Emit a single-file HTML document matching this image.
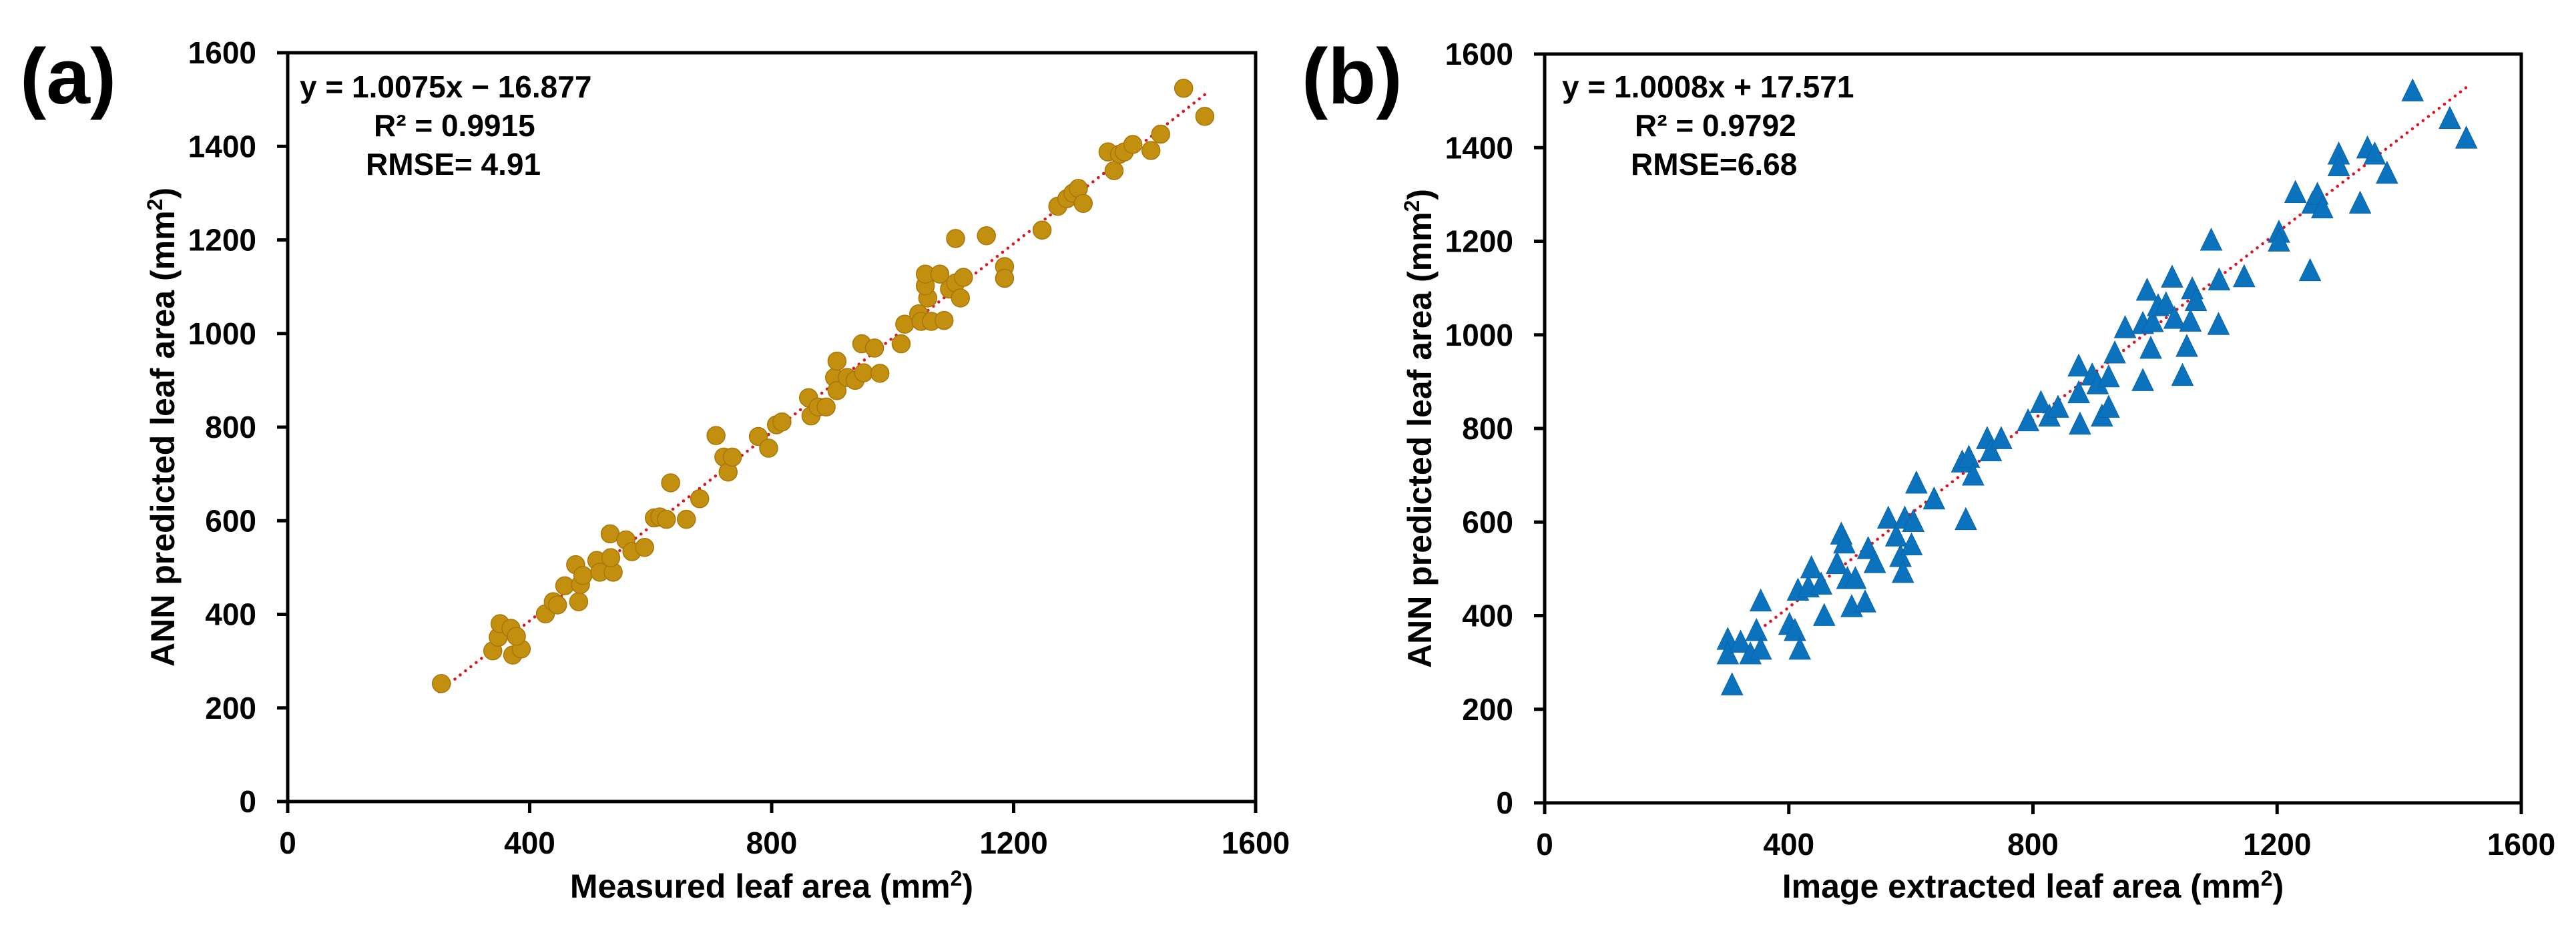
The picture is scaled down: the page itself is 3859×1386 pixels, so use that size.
<!DOCTYPE html>
<html><head><meta charset="utf-8"><style>
body{margin:0;background:#fff}
svg{display:block}
text{font-family:"Liberation Sans",Arial,sans-serif;font-weight:bold;fill:#000}
</style></head><body>
<svg id="fig" width="3859" height="1386" viewBox="0 0 3859 1386" xmlns="http://www.w3.org/2000/svg"></svg>
<script>
const xTicks=[0,400,800,1200,1600];
const yTicks=[0,200,400,600,800,1000,1200,1400,1600];
const aX=[254,339,348,351,369,372,386,378,426,439,446,458,476,481,484,488,511,516,533,538,534,559,569,590,606,615,626,633,659,681,708,721,728,735,778,795,808,817,861,865,877,890,904,908,908,925,938,952,949,970,979,1014,1020,1043,1047,1064,1085,1058,1054,1054,1078,1094,1104,1112,1117,1104,1155,1185,1185,1247,1273,1288,1298,1307,1315,1356,1366,1375,1383,1397,1427,1443,1481,1516];
const aY=[252,322,351,380,370,313,326,353,401,427,420,461,506,427,464,483,515,490,572,490,521,559,534,543,606,608,603,681,603,647,782,736,704,736,780,755,805,811,863,824,843,843,906,941,878,906,900,916,978,969,915,978,1020,1042,1026,1026,1028,1076,1102,1127,1127,1095,1108,1076,1120,1203,1209,1143,1118,1221,1272,1288,1300,1310,1278,1388,1348,1383,1388,1404,1391,1426,1524,1464];
const bX=[300,300,307,321,337,347,354,354,401,410,415,418,432,437,453,458,479,486,491,496,509,503,525,530,541,563,576,583,587,590,601,604,609,638,690,684,695,702,725,731,748,792,813,827,841,875,875,877,897,906,913,924,924,934,951,980,980,987,993,996,1005,1018,1028,1032,1045,1052,1058,1061,1067,1092,1104,1105,1146,1203,1203,1230,1254,1258,1266,1274,1301,1301,1336,1348,1360,1380,1422,1483,1510];
const bY=[346,315,249,340,315,365,325,428,378,365,451,325,458,499,464,397,508,571,552,476,476,416,426,540,510,605,567,523,489,605,548,598,680,646,602,725,735,697,775,749,775,813,852,823,842,930,873,806,911,892,823,842,907,958,1012,1021,899,1092,968,1025,1059,1063,1120,1032,910,972,1026,1095,1070,1199,1019,1114,1121,1216,1197,1301,1134,1278,1297,1268,1383,1358,1278,1396,1383,1342,1518,1459,1417];
const aFit=[1.0075,-16.877], aRange=[250,1520];
const bFit=[1.0008,17.571], bRange=[300,1510];

const NS='http://www.w3.org/2000/svg';
const svg=document.getElementById('fig');
function mk(tag,attrs,parent,txt){const e=document.createElementNS(NS,tag);for(const k in attrs)e.setAttribute(k,attrs[k]);if(txt!==undefined)e.textContent=txt;(parent||svg).appendChild(e);return e;}

function panel(p){
  const g=mk('g',{});
  
  
  const sx=v=>p.x0+(v-0)/1600*(p.x1-p.x0);
  const sy=v=>p.y1-(v-0)/1600*(p.y1-p.y0);
  const tl=mk('line',{x1:sx(p.range[0]),y1:sy(p.fit[0]*p.range[0]+p.fit[1]),x2:sx(p.range[1]),y2:sy(p.fit[0]*p.range[1]+p.fit[1]),stroke:'#e0141e','stroke-width':4.5,'stroke-dasharray':'0.1 10','stroke-linecap':'round'},g);
  
  
  const pg=mk('g',{},g);
  
  
  for(let i=0;i<p.xs.length;i++){
    const cx=sx(p.xs[i]),cy=sy(p.ys[i]);let m;
    if(p.marker==='circle'){m=mk('circle',{cx:cx,cy:cy,r:13.5,fill:'#c38f0f',stroke:'#a8770c','stroke-width':1.5},pg);}
    else{const s=16;m=mk('polygon',{points:`${cx},${cy-s*1.25} ${cx-s},${cy+s*0.8} ${cx+s},${cy+s*0.8}`,fill:'#0b72be',stroke:'#0a64a8','stroke-width':1},pg);}
    
    
  }
  const box=mk('rect',{x:p.x0,y:p.y0,width:p.x1-p.x0,height:p.y1-p.y0,fill:'none',stroke:'#000','stroke-width':5},g);
  
  
  xTicks.forEach(v=>{
    mk('line',{x1:sx(v),y1:p.y1,x2:sx(v),y2:p.y1+17,stroke:'#000','stroke-width':5},g);
    const t=mk('text',{x:sx(v),y:p.y1+78,'text-anchor':'middle','font-size':46},g,String(v));
    
    
  });
  yTicks.forEach(v=>{
    mk('line',{x1:p.x0-16,y1:sy(v),x2:p.x0,y2:sy(v),stroke:'#000','stroke-width':5},g);
    const t=mk('text',{x:p.x0-47,y:sy(v)+16,'text-anchor':'end','font-size':46},g,String(v));
    
    
  });
  const xt=mk('text',{x:(p.x0+p.x1)/2,y:1345,'text-anchor':'middle','font-size':50},g);
  xt.innerHTML=p.xtitle+' (mm<tspan dy="-18" font-size="32">2</tspan><tspan dy="18">)</tspan>';
  
  
  const yt=mk('text',{x:0,y:0,'text-anchor':'middle','font-size':50,transform:`translate(${p.x0-170},${(p.y0+p.y1)/2}) rotate(-90)`},g);
  yt.innerHTML='ANN predicted leaf area (mm<tspan dy="-18" font-size="32">2</tspan><tspan dy="18">)</tspan>';
  
  
  const ann=[[p.eqx,146,p.eq],[p.rx,204,p.r2],[p.mx,262,p.rmse]];
  ann.forEach((a,i)=>{const t=mk('text',{x:a[0],y:a[1],'font-size':46},g,a[2]);
    
    });
  const pl=mk('text',{x:p.lx,y:155,'font-size':118},g,p.label);
  
  
}
panel({name:'panel-a',x0:431,x1:1881,y0:79,y1:1201,xs:aX,ys:aY,fit:aFit,range:aRange,marker:'circle',xtitle:'Measured leaf area',eq:'y = 1.0075x − 16.877',r2:'R² = 0.9915',rmse:'RMSE= 4.91',eqx:449,rx:560,mx:548,label:'(a)',lx:30});
panel({name:'panel-b',x0:2314,x1:3777,y0:81,y1:1203,xs:bX,ys:bY,fit:bFit,range:bRange,marker:'triangle',xtitle:'Image extracted leaf area',eq:'y = 1.0008x + 17.571',r2:'R² = 0.9792',rmse:'RMSE=6.68',eqx:2340,rx:2449,mx:2443,label:'(b)',lx:1950});
</script>
</body></html>
